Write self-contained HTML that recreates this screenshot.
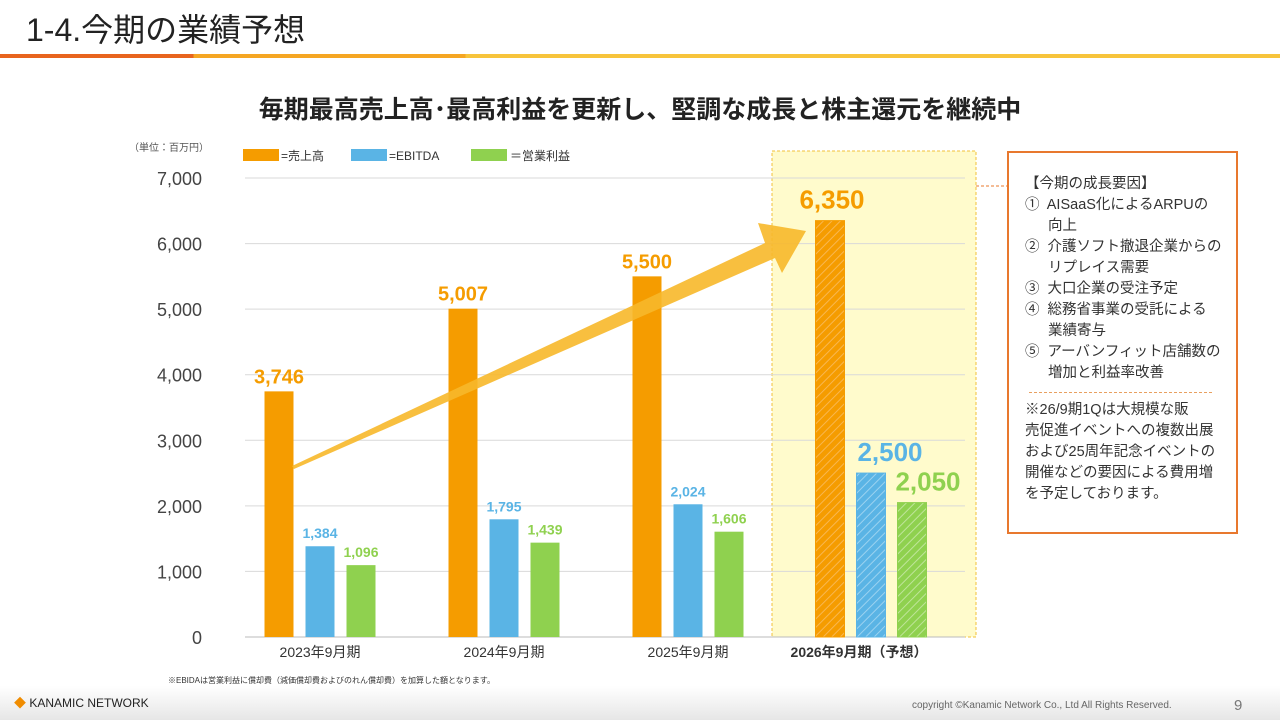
<!DOCTYPE html>
<html><head><meta charset="utf-8"><style>
body{margin:0;width:1280px;height:720px;overflow:hidden;background:#fff;font-family:"Liberation Sans","Noto Sans CJK JP",sans-serif;position:relative}
.abs{position:absolute}
</style></head><body>
<div class="abs" style="left:26px;top:5px;font-size:32px;color:#222;">1-4.今期の業績予想</div>
<div class="abs" style="left:0;top:54px;width:1280px;height:4px;background:linear-gradient(90deg,#e8641e 0,#e8641e 193px,#f5a623 194px,#f5a623 465px,#f7c43b 466px)"></div>
<div class="abs" style="left:0;width:1280px;top:90px;text-align:center;font-size:25px;font-weight:bold;color:#222;">毎期最高売上高･最高利益を更新し、堅調な成長と株主還元を継続中</div>
<svg class="abs" style="left:0;top:0" width="1280" height="720">
<defs>
<pattern id="ho" width="6" height="6" patternUnits="userSpaceOnUse" patternTransform="rotate(45)"><rect width="6" height="6" fill="#f59c00"/><line x1="0" y1="0" x2="0" y2="6" stroke="#f8b750" stroke-width="2"/></pattern>
<pattern id="hb" width="6" height="6" patternUnits="userSpaceOnUse" patternTransform="rotate(45)"><rect width="6" height="6" fill="#5ab4e5"/><line x1="0" y1="0" x2="0" y2="6" stroke="#9ad2f0" stroke-width="2"/></pattern>
<pattern id="hg" width="6" height="6" patternUnits="userSpaceOnUse" patternTransform="rotate(45)"><rect width="6" height="6" fill="#8fd14f"/><line x1="0" y1="0" x2="0" y2="6" stroke="#bfe59a" stroke-width="2"/></pattern>
</defs>
<rect x="772" y="151" width="204" height="486" fill="#fffbcc" stroke="#f0c23a" stroke-dasharray="3,2"/>
<g id="grid"></g><g id="bars"></g><g id="labels"></g>
<polygon points="292,466 765,243 758,223 806,231 782,273 775,258 294,469" fill="#f7b82a" opacity="0.9"/>
<text x="209" y="151" font-size="10" fill="#555" text-anchor="end">（単位：百万円）</text>
<g font-size="12" fill="#333">
<rect x="243" y="149" width="36" height="12" fill="#f59c00"/><text x="281" y="160">=売上高</text>
<rect x="351" y="149" width="36" height="12" fill="#5ab4e5"/><text x="389" y="160">=EBITDA</text>
<rect x="471" y="149" width="36" height="12" fill="#8fd14f"/><text x="510" y="160">＝営業利益</text>
</g>
<line x1="976" y1="186" x2="1008" y2="186" stroke="#e8782e" stroke-dasharray="3,2"/>
<text x="168" y="683" font-size="8" fill="#333">※EBIDAは営業利益に償却費（減価償却費およびのれん償却費）を加算した額となります。</text>
</svg>
<div class="abs" style="left:1007px;top:151px;width:231px;height:383px;border:2px solid #e8782e;font-size:14.5px;color:#333;line-height:21px;box-sizing:border-box;padding:21px 8px 0 16px;white-space:nowrap;">
<div>【今期の成長要因】</div>
<div>①&nbsp; AISaaS化によるARPUの<br><span style="padding-left:23px">向上</span></div>
<div>②&nbsp; 介護ソフト撤退企業からの<br><span style="padding-left:23px">リプレイス需要</span></div>
<div>③&nbsp; 大口企業の受注予定</div>
<div>④&nbsp; 総務省事業の受託による<br><span style="padding-left:23px">業績寄与</span></div>
<div>⑤&nbsp; アーバンフィット店舗数の<br><span style="padding-left:23px">増加と利益率改善</span></div>
<div style="border-top:1px dashed #e8a060;margin:8px 16px 7px 4px"></div>
<div>※26/9期1Qは大規模な販<br>売促進イベントへの複数出展<br>および25周年記念イベントの<br>開催などの要因による費用増<br>を予定しております。</div>
</div>
<div class="abs" style="left:0;top:686px;width:1280px;height:34px;background:linear-gradient(#fff,#e6e6e6)"></div>
<div class="abs" style="left:14px;top:694px;font-size:12px;color:#222;"><span style="color:#f08c00">◆</span> KANAMIC NETWORK</div>
<div class="abs" style="left:912px;top:700px;font-size:10px;color:#666;">copyright ©Kanamic Network Co., Ltd All Rights Reserved.</div>
<div class="abs" style="left:1234px;top:697px;font-size:15px;color:#777;">9</div>
<script>
const categories=["2023年9月期","2024年9月期","2025年9月期","2026年9月期（予想）"];
const sales=[3746,5007,5500,6350];
const ebitda=[1384,1795,2024,2500];
const opProfit=[1096,1439,1606,2050];
const yTicks=[0,1000,2000,3000,4000,5000,6000,7000];
const NS="http://www.w3.org/2000/svg";
const y=v=>637-v*459/7000;
const xc=i=>320+i*184;
function mk(tag,attrs,parent,txt){const e=document.createElementNS(NS,tag);for(const k in attrs)e.setAttribute(k,attrs[k]);if(txt!==undefined)e.textContent=txt;document.getElementById(parent).appendChild(e);return e;}
yTicks.forEach(t=>{
 const l=mk('line',{x1:245,x2:965,y1:y(t),y2:y(t),stroke:t?'#d9d9d9':'#bbb'},'grid');
 
 
 const tx=mk('text',{x:202,y:y(t)+7,'font-size':18,fill:'#444','text-anchor':'end'},'grid',t.toLocaleString('en-US'));
 
 
});
const series=[[sales,'#f59c00','url(#ho)',-41,'sales',2],[ebitda,'#5ab4e5','url(#hb)',0,'ebitda',19],[opProfit,'#8fd14f','url(#hg)',41,'op',16]];
categories.forEach((c,i)=>{
 const f=i===3;
 series.forEach(([arr,col,pat,off,nm,lo])=>{
  const v=arr[i],cx=xc(i)+off-(f?1:0);
  const r=mk('rect',{x:cx-14.5,y:y(v),width:29,height:637-y(v),fill:f?pat:col,stroke:f?col:'none'},'bars');
  
  
  const big=nm==='sales';
  const tx=mk('text',{x:f?cx+lo:cx,y:y(v)-(f?12:8),'font-size':f?26:(big?20:14),'font-weight':'bold',fill:col,'text-anchor':'middle'},'labels',v.toLocaleString('en-US'));
  
  
 });
 const xl=mk('text',{x:xc(i)-(f?13:0),y:657,'font-size':14,fill:'#333','text-anchor':'middle','font-weight':f?'bold':'normal'},'labels',c);
 
 
});
</script>
</body></html>
